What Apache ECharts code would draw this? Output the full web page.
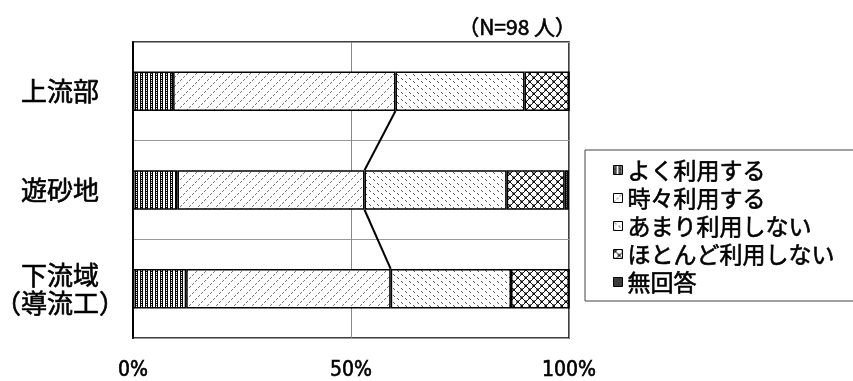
<!DOCTYPE html>
<html>
<head>
<meta charset="utf-8">
<script src="https://cdn.jsdelivr.net/npm/echarts@6/dist/echarts.min.js"></script>
<style>
  html, body { margin: 0; padding: 0; background: #fff; }
  #chart { width: 853px; height: 381px; }
</style>
</head>
<body>
<div id="chart"></div>
<script>
// Survey of how often each area is used (percent of respondents, N=98)
const categories = ['上流部', '遊砂地', '下流域\n（導流工）'];
const seriesNames = ['よく利用する', '時々利用する', 'あまり利用しない', 'ほとんど利用しない', '無回答'];
const often     = [9.2, 10.2, 12.2];
const sometimes = [51.0, 42.9, 46.9];
const rarely    = [29.6, 32.6, 27.6];
const hardly    = [10.2, 13.3, 13.3];
const noAnswer  = [0, 1.0, 0];
const xTicks = [0, 50, 100];
const sampleNote = '（N=98 人）';

// Monochrome fill tiles drawn pixel by pixel
function tile(w, h, paint) {
  const c = document.createElement('canvas');
  c.width = w; c.height = h;
  const g = c.getContext('2d');
  g.fillStyle = '#fff';
  g.fillRect(0, 0, w, h);
  paint(g);
  return { image: c, repeat: 'repeat' };
}
function dots(g, color, pts) {
  g.fillStyle = color;
  pts.forEach(p => g.fillRect(p[0], p[1], 1, 1));
}

const fills = [
  // dense vertical stripes
  tile(5, 4, g => {
    g.fillStyle = '#000';
    g.fillRect(0, 0, 3, 4);
    dots(g, '#fff', [[1, 0], [1, 2]]);
    dots(g, '#555', [[1, 1]]);
  }),
  // thin dotted forward diagonals
  tile(9, 9, g => {
    const pts = [];
    for (let i = 0; i < 9; i++) if (i % 3 !== 2) pts.push([i, 8 - i]);
    dots(g, '#777', pts);
  }),
  // sparse small dashes
  tile(8, 7, g => {
    dots(g, '#555', [[1, 1], [2, 2], [5, 4], [6, 5]]);
  }),
  // checkered crosses
  tile(8, 8, g => {
    const cross = (ox, oy) => dots(g, '#111',
      [[ox, oy], [ox + 3, oy], [ox + 1, oy + 1], [ox + 2, oy + 1],
       [ox + 1, oy + 2], [ox + 2, oy + 2], [ox, oy + 3], [ox + 3, oy + 3]]);
    cross(0, 0);
    cross(4, 4);
    dots(g, '#888', [[1, 0], [2, 0], [5, 4], [6, 4], [0, 1], [0, 2], [4, 5], [4, 6]]);
  }),
  // near-solid dark fill
  tile(2, 2, g => {
    g.fillStyle = '#222';
    g.fillRect(0, 0, 2, 2);
    dots(g, '#888', [[0, 0]]);
  })
];

const values = [often, sometimes, rarely, hardly, noAnswer];
const barShare = 0.4;

const barSeries = seriesNames.map((name, k) => ({
  name,
  type: 'bar',
  stack: 'total',
  barCategoryGap: '60%',
  data: values[k],
  itemStyle: { color: fills[k], borderColor: '#000', borderWidth: 1.5 },
  emphasis: { disabled: true },
  silent: true
}));

// connector between the "sometimes" boundaries of neighbouring bars
const boundary = categories.map((_, i) => often[i] + sometimes[i]);
const connectorData = [];
for (let i = 0; i < categories.length - 1; i++) {
  connectorData.push([boundary[i], i, boundary[i + 1], i + 1]);
}

const connector = {
  type: 'custom',
  name: 'connector',
  silent: true,
  z: 5,
  encode: { x: [0, 2], y: [1, 3] },
  data: connectorData,
  renderItem: function (params, api) {
    const a = api.coord([api.value(0), api.value(1)]);
    const b = api.coord([api.value(2), api.value(3)]);
    const half = api.size([0, 1])[1] * barShare / 2;
    return {
      type: 'line',
      shape: { x1: a[0], y1: a[1] + half, x2: b[0], y2: b[1] - half },
      style: { stroke: '#000', lineWidth: 2 }
    };
  }
};

const jpFont = "'Noto Sans CJK JP', sans-serif";
// slightly heavier than regular weight
const heavy = { textBorderColor: '#000', textBorderWidth: 0.6 };

const chart = echarts.init(document.getElementById('chart'), null, { renderer: 'canvas' });
chart.setOption({
  animation: false,
  backgroundColor: '#fff',
  grid: {
    left: 133, right: 284, top: 42, bottom: 43,
    containLabel: false,
    outerBoundsMode: 'none',
    show: true, borderColor: '#000', borderWidth: 1.5, backgroundColor: 'transparent'
  },
  xAxis: {
    type: 'value',
    min: xTicks[0],
    max: xTicks[xTicks.length - 1],
    interval: xTicks[1] - xTicks[0],
    axisLine: { show: false },
    axisTick: { show: false },
    splitLine: { show: true, lineStyle: { color: '#888', width: 1 } },
    axisLabel: Object.assign({
      formatter: '{value}%',
      margin: 22,
      color: '#000',
      fontSize: 21,
      fontFamily: "'Liberation Sans Narrow', 'DejaVu Sans Condensed', sans-serif"
    }, heavy)
  },
  yAxis: {
    type: 'category',
    inverse: true,
    data: categories,
    axisTick: { show: false },
    axisLine: { show: true, lineStyle: { color: '#000', width: 2 } },
    splitLine: { show: true, lineStyle: { color: '#999', width: 1 } },
    axisLabel: Object.assign({
      align: 'center',
      margin: 73,
      color: '#000',
      fontSize: 26,
      lineHeight: 28,
      fontFamily: jpFont
    }, heavy)
  },
  legend: {
    orient: 'vertical',
    left: 613,
    top: 156,
    padding: 0,
    itemWidth: 9,
    itemHeight: 9,
    itemGap: 0,
    icon: 'rect',
    data: seriesNames,
    selectedMode: false,
    itemStyle: { borderColor: '#000', borderWidth: 1 },
    textStyle: Object.assign({
      color: '#000',
      fontSize: 23,
      lineHeight: 28,
      fontFamily: jpFont
    }, heavy)
  },
  graphic: [
    {
      type: 'rect',
      shape: { x: 585, y: 150, width: 300, height: 151 },
      style: { fill: 'none', stroke: '#444', lineWidth: 1 },
      silent: true
    },
    {
      type: 'text',
      x: 576,
      y: 27,
      style: Object.assign({
        text: sampleNote,
        align: 'right',
        verticalAlign: 'middle',
        fill: '#000',
        fontSize: 21,
        fontFamily: jpFont
      }, { stroke: '#000', lineWidth: 0.6 })
    }
  ],
  series: barSeries.concat([connector])
});
</script>
</body>
</html>
